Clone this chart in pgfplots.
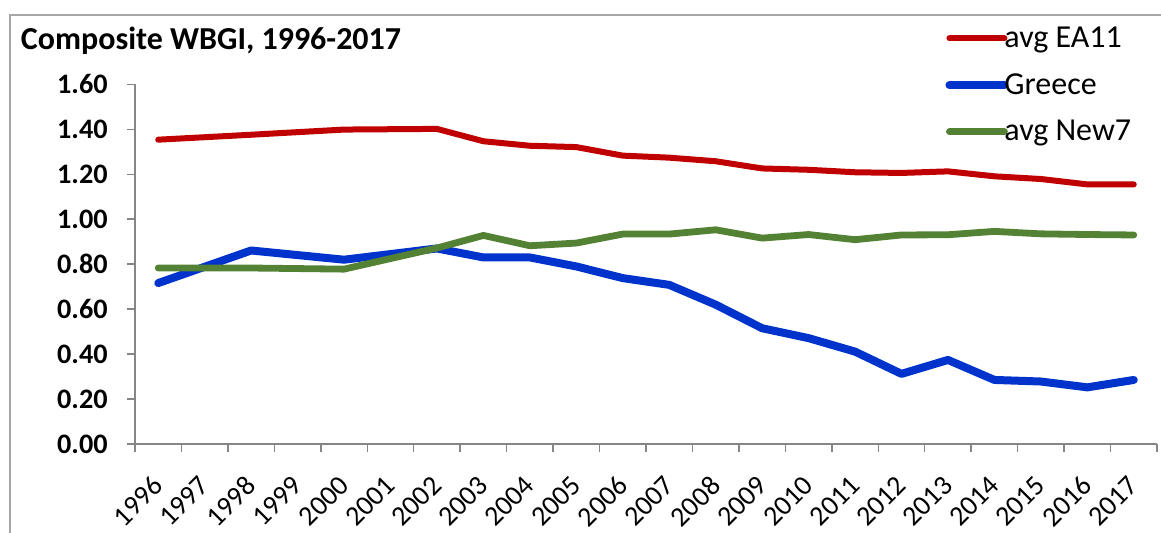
\documentclass[border=0pt]{standalone}
\usepackage{fontspec}
\setmainfont{Carlito}
\usepackage{pgfplots}
\pgfplotsset{compat=1.18}
\definecolor{cRed}{HTML}{C00000}
\definecolor{cBlue}{HTML}{0033CC}
\definecolor{cGreen}{HTML}{548235}
\definecolor{axgray}{HTML}{868686}
\definecolor{bordergray}{HTML}{A6A6A6}

\pgfplotstableread{
year ea11 greece new7
1996 1.354 0.716 0.783
1998 1.376 0.861 0.783
2000 1.399 0.820 0.778
2002 1.402 0.870 0.872
2003 1.347 0.830 0.928
2004 1.327 0.830 0.882
2005 1.321 0.790 0.894
2006 1.283 0.738 0.934
2007 1.274 0.708 0.934
2008 1.258 0.620 0.953
2009 1.226 0.515 0.916
2010 1.220 0.471 0.932
2011 1.209 0.411 0.909
2012 1.206 0.312 0.930
2013 1.213 0.374 0.931
2014 1.191 0.285 0.946
2015 1.179 0.278 0.935
2016 1.155 0.252 0.932
2017 1.155 0.285 0.930
}\datatable

\begin{document}
\begin{tikzpicture}[x=1pt,y=1pt]
\path[use as bounding box] (-67.5,-44.5) rectangle (513,222);
\draw[bordergray, line width=0.75pt] (-62.5,-46) -- (-62.5,214.5) -- (515,214.5);
\begin{axis}[
  at={(0,0)}, anchor=south west,
  scale only axis, width=511pt, height=179.8pt,
  xmin=1995.5, xmax=2017.5, ymin=0, ymax=1.6,
  axis x line*=bottom, axis y line*=left,
  xtick={1996,1997,1998,1999,2000,2001,2002,2003,2004,2005,2006,2007,2008,2009,2010,2011,2012,2013,2014,2015,2016,2017},
  xticklabels={1996,1997,1998,1999,2000,2001,2002,2003,2004,2005,2006,2007,2008,2009,2010,2011,2012,2013,2014,2015,2016,2017},
  ytick={0,0.2,0.4,0.6,0.8,1.0,1.2,1.4,1.6},
  minor xtick={1995.5,1996.5,1997.5,1998.5,1999.5,2000.5,2001.5,2002.5,2003.5,2004.5,2005.5,2006.5,2007.5,2008.5,2009.5,2010.5,2011.5,2012.5,2013.5,2014.5,2015.5,2016.5,2017.5},
  minor ytick={0,0.2,0.4,0.6,0.8,1.0,1.2,1.4,1.6},
  major tick length=0pt, minor tick length=4pt, tick align=outside,
  tick style={draw=axgray, line width=0.75pt},
  axis line style={draw=axgray, line width=0.75pt},
  /pgf/number format/assume math mode=true,
  yticklabel style={font=\fontsize{14.1}{16}\selectfont\bfseries, inner sep=0pt, xshift=-13.5pt,
     /pgf/number format/.cd, fixed, fixed zerofill, precision=2},
  xticklabel style={font=\fontsize{14}{16}\selectfont, inner sep=0pt, yshift=-18.5pt, xshift=0pt, rotate=45, anchor=east},
  legend style={at={(0.7926,1.17)}, anchor=north west, draw=none, fill=none,
     font=\fontsize{16}{19}\selectfont, row sep=8.5pt, inner sep=0pt,
     nodes={inner sep=1.5pt},
     /tikz/every odd column/.append style={column sep=-3.5pt}},
  legend cell align=left,
  legend image code/.code={\draw[#1, line cap=round] (0pt,0pt) -- (27.5pt,0pt);},
  clip=false,
]
\addplot[cRed, line width=3pt, line cap=round, line join=round] table[x=year, y=ea11] {\datatable};
\addlegendentry{avg EA11}
\addplot[cBlue, line width=4pt, line cap=round, line join=round] table[x=year, y=greece] {\datatable};
\addlegendentry{Greece}
\addplot[cGreen, line width=3.4pt, line cap=round, line join=round] table[x=year, y=new7] {\datatable};
\addlegendentry{avg New7}
\end{axis}
\node[anchor=base west, font=\fontsize{16}{19}\selectfont\bfseries, inner sep=0pt] at (-57.2,197) {Composite WBGI, 1996-2017};
\end{tikzpicture}
\end{document}
